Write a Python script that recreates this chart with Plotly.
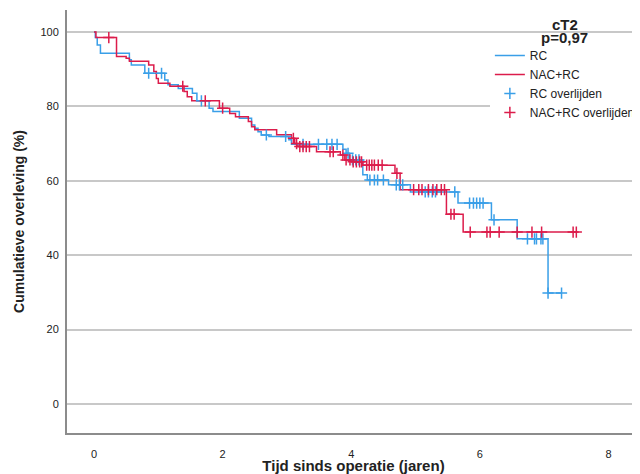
import plotly.graph_objects as go

# RC (blue) Kaplan-Meier steps
rc_times = [0, 0.02, 0.05, 0.10, 0.55, 0.58, 0.79, 1.10, 1.15, 1.31, 1.53, 1.60, 1.79, 1.85,
            2.26, 2.45, 2.50, 2.55, 2.60, 2.72, 3.03, 3.07, 3.87, 3.92, 3.97, 4.18, 4.25, 4.58,
            4.92, 5.66, 6.18, 6.58, 7.06]
rc_surv = [100, 98.5, 96.5, 94.3, 92.5, 91.1, 88.9, 87.1, 85.8, 84.8, 83.5, 81.5, 79.5, 78.6,
           76.8, 75.0, 74.1, 73.2, 72.3, 71.9, 71.0, 69.8, 68.5, 67.4, 65.6, 61.6, 60.2, 58.9,
           57.0, 54.0, 49.5, 44.4, 29.8]
rc_censored = [0.85, 1.05, 1.67, 2.68, 2.98, 3.25, 3.49, 3.62, 3.70, 3.78, 3.95, 4.02, 4.07,
               4.12, 4.29, 4.36, 4.41, 4.50, 4.70, 4.75, 4.80, 5.15, 5.20, 5.26, 5.31, 5.61,
               5.84, 5.90, 5.95, 6.00, 6.05, 6.22, 6.74, 6.85, 6.88, 6.95, 6.98, 7.06, 7.27]

# NAC+RC (red) Kaplan-Meier steps
nac_times = [0, 0.03, 0.35, 0.50, 0.55, 0.85, 0.93, 0.97, 1.00, 1.18, 1.40, 1.45, 1.52, 1.95,
             2.11, 2.20, 2.40, 2.45, 2.50, 2.84, 3.07, 3.12, 3.17, 3.46, 3.83, 3.90, 4.00, 4.18,
             4.68, 4.76, 5.48, 5.74]
nac_surv = [100, 98.5, 93.4, 92.9, 92.1, 91.1, 89.4, 87.5, 86.2, 85.4, 84.0, 82.6, 81.5, 79.5,
            78.1, 77.2, 75.9, 74.5, 73.7, 72.4, 71.4, 70.0, 69.2, 67.8, 66.9, 65.6, 65.1, 64.2,
            62.0, 57.6, 51.0, 46.2]
nac_censored = [0.23, 1.38, 1.73, 2.00, 3.10, 3.15, 3.20, 3.25, 3.30, 3.35, 3.67, 3.72, 3.87,
                3.92, 3.98, 4.03, 4.08, 4.13, 4.16, 4.24, 4.28, 4.32, 4.36, 4.42, 4.48, 4.71,
                4.97, 5.05, 5.10, 5.20, 5.27, 5.33, 5.40, 5.45, 5.55, 5.60, 5.85, 6.11, 6.16,
                6.30, 6.58, 6.81, 6.96, 7.45, 7.50]

x_ticks = [0, 2, 4, 6, 8]
y_ticks = [0, 20, 40, 60, 80, 100]

BLUE = "#3a9fe8"
RED = "#dc1c4b"


def surv_at(times, surv, t):
    v = surv[0]
    for ti, si in zip(times, surv):
        if ti <= t:
            v = si
    return v


def curve(times, surv, cens):
    end = max(cens[-1], times[-1])
    return times + [end], surv + [surv[-1]]


fig = go.Figure()
rx, ry = curve(rc_times, rc_surv, rc_censored)
nx, ny = curve(nac_times, nac_surv, nac_censored)
fig.add_trace(go.Scatter(x=rx, y=ry, mode="lines", line=dict(color=BLUE, width=1.5, shape="hv"),
                         name="RC"))
fig.add_trace(go.Scatter(x=nx, y=ny, mode="lines", line=dict(color=RED, width=1.5, shape="hv"),
                         name="NAC+RC"))
fig.add_trace(go.Scatter(x=rc_censored, y=[surv_at(rc_times, rc_surv, t) for t in rc_censored],
                         mode="markers", name="RC overlijden",
                         marker=dict(symbol="cross-thin-open", size=8,
                                     line=dict(color=BLUE, width=1.5), color=BLUE)))
fig.add_trace(go.Scatter(x=nac_censored, y=[surv_at(nac_times, nac_surv, t) for t in nac_censored],
                         mode="markers", name="NAC+RC overlijden",
                         marker=dict(symbol="cross-thin-open", size=8,
                                     line=dict(color=RED, width=1.5), color=RED)))

fig.update_layout(
    width=650, height=466,
    margin=dict(l=59, r=18, t=2, b=41),
    paper_bgcolor="white", plot_bgcolor="white",
    font=dict(family="Liberation Sans, Arial, sans-serif", size=11, color="#222"),
    showlegend=True,
    legend=dict(x=0.738, y=0.927, xanchor="left", yanchor="top", bgcolor="white",
                font=dict(size=12, color="#222"), tracegroupgap=0, itemwidth=30),
    annotations=[
        dict(text="<b>cT2</b>", x=0.869, y=0.965, xref="paper", yref="paper",
             xanchor="center", yanchor="middle", showarrow=False, font=dict(size=15, color="#222")),
        dict(text="<b>p=0,97</b>", x=0.869, y=0.934, xref="paper", yref="paper",
             xanchor="center", yanchor="middle", showarrow=False, font=dict(size=15, color="#222")),
    ],
)
fig.update_xaxes(range=[-0.42, 8.49], tickvals=x_ticks, ticks="", showgrid=False,
                 zeroline=False, showline=True, linecolor="#8c8c8c", linewidth=2,
                 ticklabelstandoff=10,
                 title=dict(text="<b>Tijd sinds operatie (jaren)</b>", font=dict(size=15, color="#222"),
                            standoff=9),
                 automargin=False)
fig.update_yaxes(range=[-7.8, 105.9], tickvals=y_ticks, ticks="", showgrid=True,
                 gridcolor="#c8c8c8", gridwidth=1.5, zeroline=False, showline=True,
                 linecolor="#8c8c8c", linewidth=2, ticklabelstandoff=4,
                 title=dict(text="<b>Cumulatieve overleving (%)</b>", font=dict(size=14, color="#222"),
                            standoff=13),
                 automargin=False)

fig.write_html("out.html")
